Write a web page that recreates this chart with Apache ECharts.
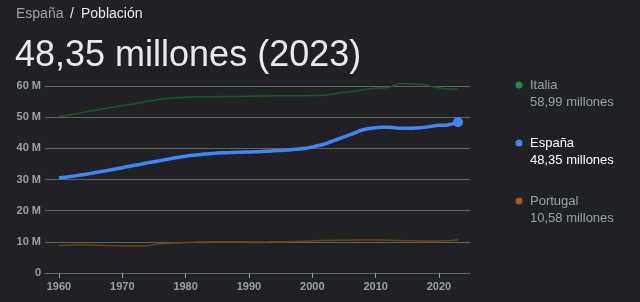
<!DOCTYPE html>
<html><head><meta charset="utf-8">
<script src="https://cdn.jsdelivr.net/npm/echarts@6/dist/echarts.min.js"></script>
<style>html,body{margin:0;padding:0;background:#202124;}#c{width:640px;height:302px;}</style>
</head><body><div id="c"></div>
<script>
const startYear = 1960;
const spain = [30.46,30.74,31.02,31.30,31.62,31.96,32.30,32.67,33.03,33.37,
33.79,34.19,34.57,34.94,35.33,35.69,36.06,36.44,36.83,37.16,
37.49,37.75,37.97,38.18,38.33,38.47,38.57,38.64,38.71,38.77,
38.83,38.87,38.97,39.09,39.19,39.32,39.45,39.60,39.80,40.05,
40.45,40.90,41.43,42.19,42.92,43.65,44.40,45.23,45.95,46.36,
46.58,46.74,46.77,46.62,46.48,46.44,46.48,46.59,46.80,47.13,
47.37,47.42,47.78,48.35];
const italy = [50.20,50.54,50.84,51.14,51.55,51.99,52.33,52.67,52.99,53.32,
53.66,53.98,54.33,54.72,55.11,55.44,55.72,55.96,56.16,56.31,
56.43,56.50,56.54,56.56,56.58,56.59,56.60,56.60,56.63,56.67,
56.72,56.76,56.80,56.83,56.84,56.84,56.86,56.89,56.91,56.91,
56.94,56.97,57.06,57.31,57.69,57.97,58.14,58.44,58.83,59.10,
59.28,59.38,59.54,60.23,60.79,60.73,60.63,60.54,60.42,59.73,
59.44,59.13,59.00,58.99];
const portugal = [8.86,8.93,8.99,9.03,9.04,9.00,8.93,8.86,8.79,8.73,
8.68,8.64,8.63,8.63,8.75,9.09,9.36,9.50,9.59,9.66,
9.77,9.85,9.91,9.96,9.99,10.01,10.02,10.01,10.01,10.00,
9.98,9.96,9.96,9.98,10.00,10.03,10.06,10.11,10.16,10.22,
10.29,10.36,10.42,10.46,10.50,10.52,10.54,10.56,10.56,10.57,
10.57,10.56,10.51,10.46,10.40,10.36,10.33,10.30,10.28,10.29,
10.30,10.33,10.41,10.58];
const xTicks = [1960,1970,1980,1990,2000,2010,2020];
const yTicks = [0,10,20,30,40,50,60];
const legendNames = ['Italia','España','Portugal'];
const legendValues = ['58,99 millones','48,35 millones','10,58 millones'];
const headline = '48,35 millones (2023)';

const toPairs = arr => arr.map((v,i)=>[startYear+i, v]);
const FONT = '"Liberation Sans", Arial, sans-serif';
const legendColors = ['#1e8e3e','#4285f4','#b0571a'];
const legendY = [85,143,201];

const graphics = [
  {type:'text', left:16, top:7, style:{text:'España', fill:'#9aa0a6', font:'14px '+FONT}},
  {type:'text', left:70, top:7, style:{text:'/', fill:'#e8eaed', font:'14px '+FONT}},
  {type:'text', left:81, top:7, style:{text:'Población', fill:'#e8eaed', font:'14px '+FONT}},
  {type:'text', left:15, top:38, style:{text:headline, fill:'#e8eaed', font:'36px '+FONT}}
];
legendNames.forEach((n,i)=>{
  const bright = i===1;
  graphics.push({type:'circle', shape:{cx:519, cy:legendY[i], r:3.5}, style:{fill:legendColors[i]}});
  graphics.push({type:'text', x:530, y:legendY[i], style:{text:n, fill: bright?'#ffffff':'#9aa0a6', font:'13px '+FONT, textVerticalAlign:'middle'}});
  graphics.push({type:'text', x:530, y:legendY[i]+17, style:{text:legendValues[i], fill: bright?'#ffffff':'#9aa0a6', font:'13px '+FONT, textVerticalAlign:'middle'}});
});

const chart = echarts.init(document.getElementById('c'));
chart.setOption({
  backgroundColor:'#202124',
  animation:false,
  grid:{left:45, right:170, top:86, bottom:29, containLabel:false},
  xAxis:{type:'value', min:1957.8, max:2024.9,
    axisLine:{show:true, lineStyle:{color:'#5f6368', width:1}},
    axisTick:{show:true, customValues:xTicks, length:5, lineStyle:{color:'#9aa0a6'}},
    axisLabel:{customValues:xTicks, color:'#9aa0a6', fontSize:11, fontWeight:'bold', fontFamily:FONT, margin:8, formatter:v=>String(v)},
    splitLine:{show:false}},
  yAxis:{type:'value', min:0, max:60, interval:10,
    axisLine:{show:false}, axisTick:{show:false},
    axisLabel:{color:'#9aa0a6', fontSize:11, fontWeight:'bold', fontFamily:FONT, margin:4, formatter:v=> v===0?'0':v+' M'},
    splitLine:{lineStyle:{color:'#5f6368', width:1}}},
  series:[
    {name:'Italia', type:'line', data:toPairs(italy), clip:false, showSymbol:false, smooth:true, lineStyle:{color:'#1d5530', width:1.5}, z:2},
    {name:'Portugal', type:'line', data:toPairs(portugal), clip:false, showSymbol:false, smooth:true, lineStyle:{color:'#6e4319', width:1.5}, z:2},
    {name:'España', type:'line', data:toPairs(spain), clip:false, smooth:true, showSymbol:true, symbol:'circle', symbolSize:(v,p)=>p.dataIndex===spain.length-1?10:0,
      itemStyle:{color:'#4285f4', borderWidth:0}, lineStyle:{color:'#4285f4', width:3.5}, z:3}
  ],
  graphic:graphics
});
</script></body></html>
